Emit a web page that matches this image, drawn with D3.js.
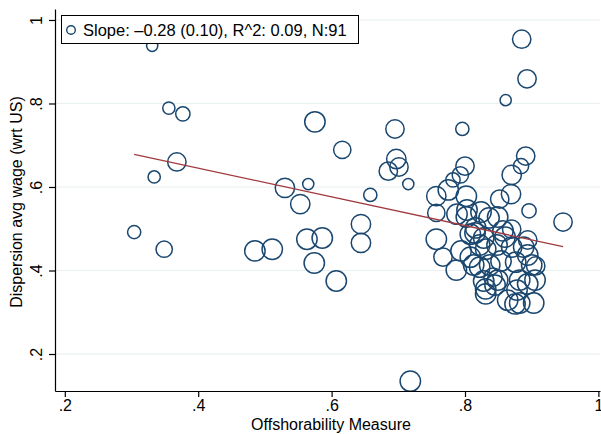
<!DOCTYPE html>
<html>
<head>
<meta charset="utf-8">
<script src="https://cdn.jsdelivr.net/npm/d3@7"></script>
<style>
  body { margin: 0; background: #fff; }
  text { font-family: "Liberation Sans", Arial, Helvetica, sans-serif; fill: #000; }
</style>
</head>
<body>
<div id="plot"></div>
<script>
// offshorability measure per occupation
const offshore = [0.331,0.356,0.377,0.575,0.368,0.334,0.530,0.565,0.553,0.304,
  0.349,0.485,0.511,0.563,0.586,0.574,0.607,0.885,0.893,0.861,
  0.695,0.796,0.616,0.697,0.701,0.685,0.715,0.658,0.644,0.644,
  0.718,0.891,0.884,0.870,0.800,0.793,0.782,0.947,0.896,0.757,
  0.775,0.802,0.852,0.869,0.757,0.788,0.803,0.824,0.836,0.849,
  0.816,0.757,0.767,0.787,0.794,0.808,0.813,0.822,0.831,0.815,
  0.828,0.857,0.870,0.860,0.870,0.888,0.894,0.900,0.876,0.854,
  0.837,0.849,0.828,0.831,0.831,0.845,0.882,0.905,0.878,0.875,
  0.882,0.903,0.864,0.842,0.822,0.848,0.894,0.802,0.906,0.808,0.894];

// dispersion of avg wage (wrt US)
const dispersion = [0.938,0.789,0.775,0.756,0.660,0.624,0.598,0.607,0.559,0.492,
  0.451,0.447,0.451,0.475,0.478,0.418,0.375,0.954,0.859,0.808,
  0.739,0.739,0.689,0.667,0.648,0.638,0.607,0.581,0.511,0.466,
  0.135,0.674,0.650,0.629,0.650,0.629,0.617,0.516,0.543,0.578,
  0.593,0.578,0.571,0.583,0.538,0.535,0.545,0.540,0.526,0.528,
  0.502,0.475,0.432,0.401,0.447,0.432,0.413,0.461,0.451,0.490,
  0.478,0.495,0.499,0.480,0.456,0.456,0.437,0.413,0.420,0.423,
  0.413,0.377,0.375,0.356,0.344,0.365,0.377,0.377,0.353,0.320,
  0.322,0.322,0.329,0.384,0.408,0.461,0.473,0.528,0.411,0.487,0.368];

// analytic weights (employment)
const weights = [30,36,49,100,81,36,90,30,90,42,
  64,100,100,100,100,100,100,81,81,30,
  81,42,72,90,81,81,30,42,90,90,
  100,81,56,90,81,64,49,81,49,90,
  100,100,81,90,72,100,100,100,100,100,
  100,100,81,100,100,100,100,100,100,100,
  100,100,81,100,100,100,100,100,100,100,
  100,100,100,100,100,100,100,100,100,100,
  100,100,100,81,100,100,81,100,81,100,100];

// fitted line endpoints
const fitX = [0.304, 0.947];
const fitY = [0.678, 0.457];

const xTicks = [0.2, 0.4, 0.6, 0.8, 1];
const yTicks = [0.2, 0.4, 0.6, 0.8, 1];
const legendText = "Slope: \u20130.28 (0.10), R^2: 0.09, N:91";

const width = 601, height = 434;
const navy = "#1a476f", maroon = "#a0393f", grid = "#e8f0f1";

const data = offshore.map((x, i) => ({ x: x, y: dispersion[i], w: weights[i] }));

const x = d3.scaleLinear().domain([0.1853, 1.0024]).range([55, 600]);
const y = d3.scaleLinear().domain([0.1114, 1.0263]).range([391, 9]);
const r = d3.scaleSqrt().domain([0, 100]).range([0, 10.2]);

const fmt = d => d === 1 ? "1" : d3.format(".1f")(d).replace(/^0/, "");

const svg = d3.select("#plot").append("svg")
  .attr("width", width)
  .attr("height", height);

// gridlines
svg.append("g").selectAll("line")
  .data(yTicks)
  .enter()
  .append("line")
  .attr("x1", 56).attr("x2", 600)
  .attr("y1", d => y(d)).attr("y2", d => y(d))
  .attr("stroke", grid)
  .attr("stroke-width", 1.2);

// points
svg.append("g").selectAll("circle")
  .data(data)
  .enter()
  .append("circle")
  .attr("cx", d => x(d.x))
  .attr("cy", d => y(d.y))
  .attr("r", d => r(d.w))
  .attr("fill", "none")
  .attr("stroke", navy)
  .attr("stroke-width", 1.5);

// fit line
svg.append("line")
  .attr("x1", x(fitX[0])).attr("y1", y(fitY[0]))
  .attr("x2", x(fitX[1])).attr("y2", y(fitY[1]))
  .attr("stroke", maroon)
  .attr("stroke-width", 1.3);

// x axis
const xAxis = svg.append("g")
  .attr("transform", "translate(0,391)")
  .call(d3.axisBottom(x).tickValues(xTicks).tickFormat(fmt).tickSize(6).tickSizeOuter(0));
xAxis.selectAll("text").attr("font-size", 16).attr("dy", "0.71em").attr("y", 9)
  .style("font-family", "Liberation Sans, Arial, sans-serif");

// y axis
const yAxis = svg.append("g")
  .attr("transform", "translate(55,0)")
  .call(d3.axisLeft(y).tickValues(yTicks).tickFormat(fmt).tickSize(6).tickSizeOuter(0));
yAxis.selectAll("text")
  .attr("font-size", 16)
  .attr("x", null).attr("dy", null)
  .attr("text-anchor", "middle")
  .attr("transform", "translate(-13,0) rotate(-90)")
  .style("font-family", "Liberation Sans, Arial, sans-serif");

svg.selectAll(".domain, .tick line").attr("stroke", "#000").attr("stroke-width", 1.2);

// axis titles
svg.append("text")
  .attr("x", 331).attr("y", 430)
  .attr("text-anchor", "middle")
  .attr("font-size", 16)
  .text("Offshorability Measure");

svg.append("text")
  .attr("transform", "translate(22,202) rotate(-90)")
  .attr("text-anchor", "middle")
  .attr("font-size", 16)
  .text("Dispersion avg wage (wrt US)");

// legend
const legend = svg.append("g");
legend.append("rect")
  .attr("x", 61.5).attr("y", 15.5)
  .attr("width", 297).attr("height", 28)
  .attr("fill", "#fff")
  .attr("stroke", "#000")
  .attr("stroke-width", 1);
legend.append("circle")
  .attr("cx", 71).attr("cy", 30).attr("r", 4.3)
  .attr("fill", "none").attr("stroke", navy).attr("stroke-width", 1.4);
legend.append("text")
  .attr("x", 83).attr("y", 35.5)
  .attr("font-size", 16.5)
  .text(legendText);
</script>
</body>
</html>
